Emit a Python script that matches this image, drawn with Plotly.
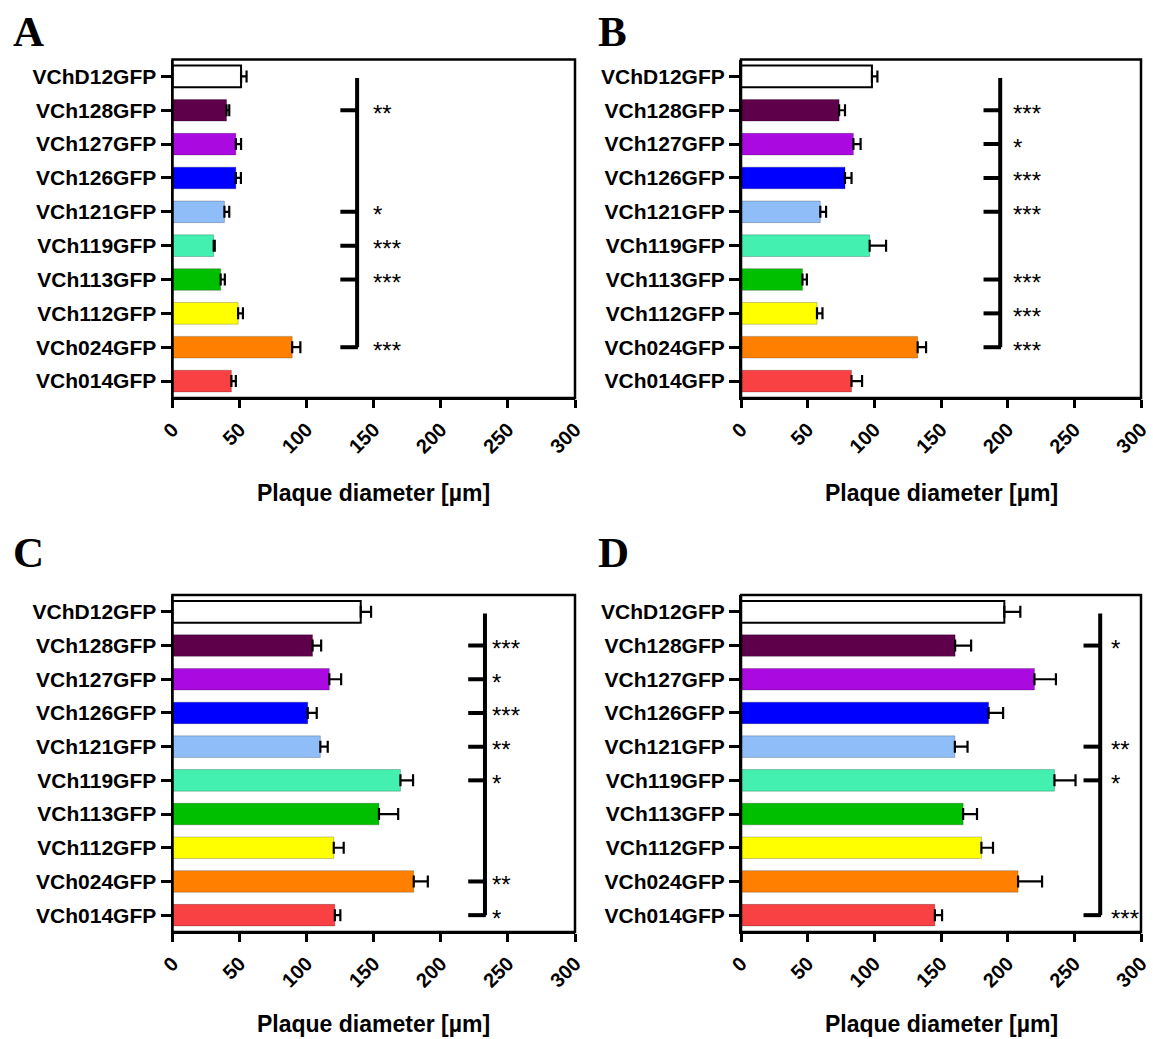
import plotly.graph_objects as go

# ---------------- data ----------------
categories = ["VChD12GFP", "VCh128GFP", "VCh127GFP", "VCh126GFP", "VCh121GFP",
              "VCh119GFP", "VCh113GFP", "VCh112GFP", "VCh024GFP", "VCh014GFP"]
colors = ["#ffffff", "#5e004a", "#aa0ae0", "#0000ff", "#8fbdf7",
          "#43f0b0", "#00bf00", "#ffff00", "#ff8000", "#f94144"]

A_mean = [51.1, 40.3, 47.2, 47.2, 38.7, 30.7, 35.9, 48.9, 89.2, 43.9]
A_err = [4.1, 2.0, 3.9, 3.8, 3.6, 0.8, 3.1, 3.6, 6.1, 3.3]
B_mean = [98.2, 73.6, 84.3, 78.0, 59.5, 96.5, 46.1, 57.0, 132.5, 82.9]
B_err = [4.1, 4.4, 5.4, 4.9, 4.3, 12.3, 3.3, 4.1, 6.3, 7.9]
C_mean = [140.3, 104.4, 116.9, 100.8, 110.2, 169.9, 153.9, 120.2, 179.8, 121.0]
C_err = [7.7, 6.4, 8.8, 6.7, 5.5, 9.4, 14.3, 7.4, 10.5, 4.1]
D_mean = [197.5, 160.6, 220.1, 185.7, 160.4, 235.1, 166.6, 180.3, 207.8, 145.4]
D_err = [12.0, 12.0, 16.1, 10.9, 9.5, 15.8, 10.4, 8.7, 18.0, 5.4]

A_sig_rows = ["VCh128GFP", "VCh121GFP", "VCh119GFP", "VCh113GFP", "VCh024GFP"]
A_sig_text = ["**", "*", "***", "***", "***"]
B_sig_rows = ["VCh128GFP", "VCh127GFP", "VCh126GFP", "VCh121GFP", "VCh113GFP", "VCh112GFP", "VCh024GFP"]
B_sig_text = ["***", "*", "***", "***", "***", "***", "***"]
C_sig_rows = ["VCh128GFP", "VCh127GFP", "VCh126GFP", "VCh121GFP", "VCh119GFP", "VCh024GFP", "VCh014GFP"]
C_sig_text = ["***", "*", "***", "**", "*", "**", "*"]
D_sig_rows = ["VCh128GFP", "VCh121GFP", "VCh119GFP", "VCh014GFP"]
D_sig_text = ["*", "**", "*", "***"]

# bracket: vertical line position (µm), last row of bracket, star text position (µm)
bracket_x = [137.6, 194.4, 232.9, 269.4]
bracket_end = ["VCh024GFP", "VCh024GFP", "VCh014GFP", "VCh014GFP"]
star_x = [148.0, 202.5, 236.5, 276.0]
bracket_tick = 12.5

panel_letters = ["A", "B", "C", "D"]
x_ticks = [0, 50, 100, 150, 200, 250, 300]
x_title = "Plaque diameter [µm]"

# ---------------- layout geometry (screen px -> paper coords) ----------------
W, H = 1153, 1039


def px(sx):
    return sx / W


def py(sy):
    return 1 - sy / H


x_dom = [(px(172.5), px(575)), (px(741), px(1141))] * 2
y_dom = [(py(398), py(59.5))] * 2 + [(py(932), py(595))] * 2
letter_pos = [(11, 32), (596, 32), (11, 552), (596, 552)]
title_y = [493, 493, 1024, 1024]

means = [A_mean, B_mean, C_mean, D_mean]
errs = [A_err, B_err, C_err, D_err]
sig_rows = [A_sig_rows, B_sig_rows, C_sig_rows, D_sig_rows]
sig_text = [A_sig_text, B_sig_text, C_sig_text, D_sig_text]

SANS = "Liberation Sans, Arial, sans-serif"
SERIF = "Liberation Serif, Times New Roman, serif"

fig = go.Figure()
line_colors = ["#000000"] + ["rgba(0,0,0,0.22)"] * 9
line_widths = [2] + [1] * 9

shapes = []
annotations = []
layout_axes = {}

for i in range(4):
    xa = "x" if i == 0 else f"x{i+1}"
    ya = "y" if i == 0 else f"y{i+1}"
    fig.add_trace(go.Bar(
        x=means[i], y=categories, orientation="h",
        marker=dict(color=colors, line=dict(color=line_colors, width=line_widths)),
        width=0.64,
        error_x=dict(type="data", array=errs[i], arrayminus=[0] * len(errs[i]),
                     symmetric=False, color="black", thickness=2.2, width=6),
        xaxis=xa, yaxis=ya, showlegend=False, hoverinfo="skip",
    ))
    xkey = "xaxis" if i == 0 else f"xaxis{i+1}"
    ykey = "yaxis" if i == 0 else f"yaxis{i+1}"
    layout_axes[xkey] = dict(
        domain=list(x_dom[i]), anchor=ya, range=[0, 300], automargin=False,
        tickvals=x_ticks, ticktext=[str(t) for t in x_ticks], tickangle=-45,
        ticks="outside", ticklen=8, tickwidth=2.5, tickcolor="black",
        showline=True, linewidth=2, linecolor="black", mirror=False,
        showgrid=False, zeroline=False, ticklabeloverflow="allow",
        tickfont=dict(family=SANS, size=20, color="black", weight="bold"),
        ticklabelstandoff=2,
    )
    layout_axes[ykey] = dict(
        domain=list(y_dom[i]), anchor=xa, type="category", automargin=False,
        categoryorder="array", categoryarray=categories,
        range=[len(categories) - 0.5, -0.5],
        ticks="outside", ticklen=10, tickwidth=2.5, tickcolor="black",
        showline=True, linewidth=2, linecolor="black", mirror=False,
        showgrid=False, zeroline=False,
        tickfont=dict(family=SANS, size=21, color="black", weight="bold"),
        ticklabelstandoff=0,
    )
    # plot frame
    shapes.append(dict(type="rect", xref=f"{xa} domain", yref=f"{ya} domain",
                       x0=0, x1=1, y0=0, y1=1, line=dict(color="black", width=2.5),
                       fillcolor="rgba(0,0,0,0)", layer="above"))
    # bracket vertical line
    end_idx = categories.index(bracket_end[i])
    shapes.append(dict(type="line", xref=xa, yref=ya,
                       x0=bracket_x[i], x1=bracket_x[i], y0=0.05, y1=end_idx,
                       line=dict(color="black", width=4)))
    for row, txt in zip(sig_rows[i], sig_text[i]):
        r = categories.index(row)
        shapes.append(dict(type="line", xref=xa, yref=ya,
                           x0=bracket_x[i] - bracket_tick, x1=bracket_x[i] + 0.6,
                           y0=r, y1=r, line=dict(color="black", width=4)))
        annotations.append(dict(text=txt, xref=xa, yref=ya, x=star_x[i], y=r,
                                xanchor="left", yanchor="middle", showarrow=False,
                                yshift=-3,
                                font=dict(family=SANS, size=24, color="black")))
    # axis title
    annotations.append(dict(text=x_title, xref="paper", yref="paper",
                            x=(x_dom[i][0] + x_dom[i][1]) / 2, y=py(title_y[i]),
                            xanchor="center", yanchor="middle", showarrow=False,
                            font=dict(family=SANS, size=23, color="black", weight="bold")))
    # panel letter
    lx, ly = letter_pos[i]
    annotations.append(dict(text=panel_letters[i], xref="paper", yref="paper",
                            x=px(lx), y=py(ly), xanchor="left", yanchor="middle",
                            showarrow=False,
                            font=dict(family=SERIF, size=43, color="black", weight="bold")))

fig.update_layout(
    template="none",
    width=W, height=H, margin=dict(l=0, r=0, t=0, b=0, pad=0), autosize=False,
    paper_bgcolor="white", plot_bgcolor="white",
    shapes=shapes, annotations=annotations, bargap=0.36,
    **layout_axes,
)

fig.write_html(
    "out.html",
    config={"displayModeBar": False},
    post_script="document.body.style.margin='0';document.documentElement.style.overflow='hidden';",
)
